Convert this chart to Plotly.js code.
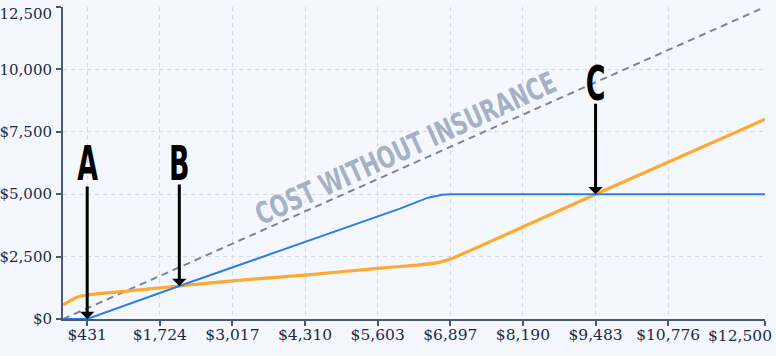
<!DOCTYPE html>
<html>
<head>
<meta charset="utf-8">
<script src="https://cdn.plot.ly/plotly-3.0.1.min.js"></script>
<style>html,body{margin:0;padding:0;background:#f4f8fe;}#chart{width:776px;height:356px;}</style>
</head>
<body>
<div id="chart"></div>
<script>
// Cost without insurance (dashed diagonal)
const noInsX = [0, 12500];
const noInsY = [0, 12500];

// Blue plan
const blueX = [0, 431, 2071, 6000, 6500, 6750, 6897, 12500];
const blueY = [0, 0, 1322, 4420, 4860, 4975, 5000, 5000];

// Orange plan
const orangeX = [0, 100, 200, 300, 431, 1000, 2071, 3017, 4310, 5603, 6300, 6700, 6897, 9483, 12500];
const orangeY = [560, 700, 820, 910, 962, 1090, 1322, 1530, 1760, 2030, 2160, 2270, 2400, 5000, 8000];

// Ticks
const xTickVals = [431, 1724, 3017, 4310, 5603, 6897, 8190, 9483, 10776, 12500];
const xTickText = ["$431", "$1,724", "$3,017", "$4,310", "$5,603", "$6,897", "$8,190", "$9,483", "$10,776", "$12,500"];
const yTickVals = [0, 2500, 5000, 7500, 10000, 12500];
const yTickText = ["$0", "$2,500", "$5,000", "$7,500", "$10,000", "$12,500"];

// Labelled points
const markLabels = ["A", "B", "C"];
const markX = [431, 2071, 9483];
const markY = [0, 1322, 5000];
const letterY = [6250, 6250, 9450];
const arrowTail = [-134, -103, -92];

const label = {text: "COST WITHOUT INSURANCE", x: 6090, y: 6850};

const axisCol = "#4c5770";
const gridCol = "#d4dae4";
const xTickFont = {family: "DejaVu Serif, serif", size: 15.5, color: "#1d2a47"};
const yTickFont = {family: "DejaVu Serif, serif", size: 15, color: "#1d2a47"};
const letterFont = {family: "DejaVu Sans, sans-serif", size: 48, color: "#000000", weight: 700};

const traces = [
  {x: noInsX, y: noInsY, type: "scatter", mode: "lines", cliponaxis: false,
   line: {color: "#7b8394", width: 2, dash: "7px,5px"}, hoverinfo: "skip"},
  {x: orangeX, y: orangeY, type: "scatter", mode: "lines", cliponaxis: false,
   line: {color: "#fdab30", width: 3.2, shape: "spline", smoothing: 0.5}, hoverinfo: "skip"},
  {x: blueX, y: blueY, type: "scatter", mode: "lines", cliponaxis: false,
   line: {color: "#2d7fe0", width: 2}, hoverinfo: "skip"}
];

const annotations = [];
markLabels.forEach((t, i) => {
  annotations.push({
    x: markX[i], y: markY[i], xref: "x", yref: "y",
    text: "", showarrow: true, ax: 0, ay: arrowTail[i],
    arrowhead: 1, arrowsize: 0.8, arrowwidth: 3, arrowcolor: "#000000",
    standoff: 0, startstandoff: 0
  });
  annotations.push({
    x: markX[i], y: letterY[i], xref: "x", yref: "y",
    text: t, showarrow: false, font: letterFont, name: "letter"
  });
});
annotations.push({
  x: label.x, y: label.y, xref: "x", yref: "y", text: label.text, showarrow: false,
  textangle: -24.5, name: "diag",
  font: {family: "DejaVu Sans, sans-serif", size: 30, color: "#a5b1c5", weight: 700}
});
// last x tick label, pulled inside the canvas
annotations.push({
  x: xTickVals[xTickVals.length - 1], y: 0, xref: "x", yref: "paper",
  text: xTickText[xTickText.length - 1], showarrow: false,
  xanchor: "right", yanchor: "top", xshift: 9, yshift: -6, font: xTickFont
});
// top y tick label, pulled inside the canvas
annotations.push({
  x: 0, y: yTickVals[yTickVals.length - 1], xref: "paper", yref: "y",
  text: yTickText[yTickText.length - 1], showarrow: false,
  xanchor: "right", yanchor: "top", xshift: -9, yshift: 4, font: yTickFont
});

const xTT = xTickText.slice(); xTT[xTT.length - 1] = "";
const yTT = yTickText.slice(); yTT[yTT.length - 1] = "";

const layout = {
  width: 776, height: 356,
  margin: {l: 63, r: 11, t: 7, b: 37, pad: 0},
  paper_bgcolor: "#f4f8fe", plot_bgcolor: "#f4f8fe",
  showlegend: false,
  xaxis: {
    range: [0, 12500], tickmode: "array", tickvals: xTickVals, ticktext: xTT,
    showline: true, linecolor: axisCol, linewidth: 2, ticks: "outside", ticklen: 5, tickwidth: 2, tickcolor: axisCol,
    showgrid: true, gridcolor: gridCol, gridwidth: 1, griddash: "4px,4px",
    zeroline: false, tickfont: xTickFont, fixedrange: true, ticklabelstandoff: -5
  },
  yaxis: {
    range: [0, 12500], tickmode: "array", tickvals: yTickVals, ticktext: yTT,
    showline: true, linecolor: axisCol, linewidth: 2, ticks: "outside", ticklen: 5, tickwidth: 2, tickcolor: axisCol,
    showgrid: true, gridcolor: gridCol, gridwidth: 1, griddash: "4px,4px",
    zeroline: false, tickfont: yTickFont, fixedrange: true, ticklabelstandoff: 1
  },
  annotations: annotations
};

function condense() {
  const groups = document.querySelectorAll("#chart .annotation");
  groups.forEach((g, idx) => {
    const ann = layout.annotations[idx];
    if (!ann) return;
    let sx = null;
    if (ann.name === "letter") sx = 0.56;
    if (ann.name === "diag") sx = 0.7;
    if (sx === null) return;
    const txt = g.querySelector("text.annotation-text");
    if (!txt) return;
    const cx = parseFloat(txt.getAttribute("x")) || 0;
    txt.setAttribute("transform", "translate(" + cx + ",0) scale(" + sx + ",1) translate(" + (-cx) + ",0)");
  });
}

Plotly.newPlot("chart", traces, layout, {displayModeBar: false, staticPlot: true}).then(condense);
</script>
</body>
</html>
